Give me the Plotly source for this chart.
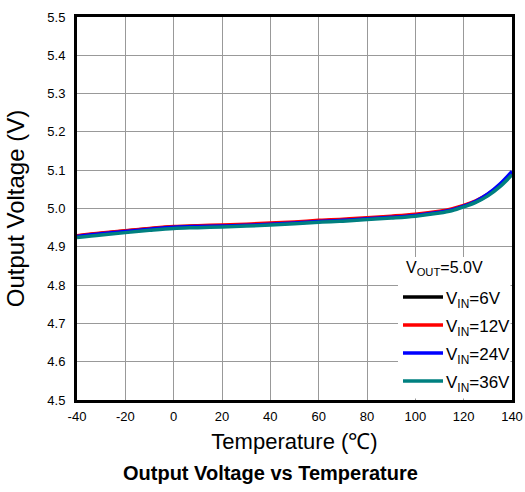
import plotly.graph_objects as go

# Ambient temperature (°C)
temperature = [-40, -30, -20, -10, 0, 10, 20, 30, 40, 50, 60, 70, 80, 90, 100, 110, 115, 120, 125, 130, 135, 140]

# Output voltage (V) for each input voltage
vout_6v = [4.928, 4.935, 4.941, 4.947, 4.952, 4.954, 4.955, 4.957, 4.960, 4.963, 4.967, 4.970, 4.974, 4.978, 4.983, 4.991, 4.997, 5.006, 5.018, 5.035, 5.060, 5.092]
vout_12v = [4.929, 4.936, 4.942, 4.948, 4.953, 4.955, 4.957, 4.959, 4.962, 4.965, 4.969, 4.972, 4.976, 4.980, 4.985, 4.993, 4.999, 5.008, 5.020, 5.037, 5.061, 5.093]
vout_24v = [4.927, 4.934, 4.940, 4.946, 4.951, 4.953, 4.954, 4.956, 4.959, 4.962, 4.966, 4.969, 4.973, 4.977, 4.982, 4.990, 4.996, 5.006, 5.019, 5.038, 5.064, 5.097]
vout_36v = [4.924, 4.931, 4.937, 4.943, 4.948, 4.950, 4.952, 4.954, 4.957, 4.960, 4.964, 4.967, 4.971, 4.975, 4.980, 4.988, 4.994, 5.004, 5.016, 5.033, 5.057, 5.088]

series_names = ["V<sub>IN</sub>=6V", "V<sub>IN</sub>=12V", "V<sub>IN</sub>=24V", "V<sub>IN</sub>=36V"]
series_values = [vout_6v, vout_12v, vout_24v, vout_36v]
series_colors = ["#000000", "#ff0000", "#0000ff", "#008080"]
legend_title = "V<sub>OUT</sub>=5.0V"

x_ticks = list(range(-40, 141, 20))
x_tick_text = [str(v) for v in x_ticks]
y_ticks = [4.5, 4.6, 4.7, 4.8, 4.9, 5.0, 5.1, 5.2, 5.3, 5.4, 5.5]
y_tick_text = [f"{v:.1f}" for v in y_ticks]

font_family = "Liberation Sans, Arial, sans-serif"

fig = go.Figure()
for name, vals, color in zip(series_names, series_values, series_colors):
    fig.add_trace(go.Scatter(
        x=temperature, y=vals, name=name, mode="lines",
        line=dict(color=color, width=3.5, shape="spline"),
        showlegend=False,
    ))

# Legend panel drawn in paper coordinates (plot area is 435 x 383 px)
px_w, px_h = 435.0, 383.0
def px_x(dx):
    return dx / px_w
def px_y(dy):
    return dy / px_h

shapes = [dict(
    type="rect", xref="paper", yref="paper",
    x0=1 - px_x(114), x1=1 - px_x(1.5), y0=px_y(1.5), y1=px_y(143),
    fillcolor="white", line=dict(width=0), layer="above",
)]
annotations = [dict(
    text=legend_title, xref="paper", yref="paper",
    x=1 - px_x(108), y=px_y(132), xanchor="left", yanchor="middle",
    showarrow=False, font=dict(size=16, family=font_family),
)]
for i, (name, color) in enumerate(zip(series_names, series_colors)):
    yc = px_y(103 - 28 * i)
    shapes.append(dict(
        type="line", xref="paper", yref="paper",
        x0=1 - px_x(109), x1=1 - px_x(69), y0=yc, y1=yc,
        line=dict(color=color, width=3.5), layer="above",
    ))
    annotations.append(dict(
        text=name, xref="paper", yref="paper",
        x=1 - px_x(68), y=yc - px_y(3), xanchor="left", yanchor="middle",
        showarrow=False, font=dict(size=17, family=font_family),
    ))

annotations.append(dict(
    text="<b>Output Voltage vs Temperature</b>",
    xref="paper", yref="paper", x=0.445, y=-0.19,
    xanchor="center", yanchor="middle", showarrow=False,
    font=dict(size=20, family=font_family),
))

fig.update_layout(
    width=525, height=492,
    margin=dict(l=77, r=13, t=17, b=92, autoexpand=False),
    paper_bgcolor="white", plot_bgcolor="white",
    font=dict(family=font_family, color="black"),
    xaxis=dict(
        range=[-40, 140], tickvals=x_ticks, ticktext=x_tick_text, ticks="", automargin=False,
        showgrid=True, gridcolor="#999999", gridwidth=1,
        showline=True, linecolor="black", linewidth=3, mirror=True,
        tickfont=dict(size=13), ticklabelstandoff=2,
        title=dict(text="Temperature (℃)", font=dict(size=22), standoff=12),
        zeroline=False,
    ),
    yaxis=dict(
        range=[4.5, 5.5], tickvals=y_ticks, ticktext=y_tick_text, ticks="", automargin=False,
        showgrid=True, gridcolor="#999999", gridwidth=1,
        showline=True, linecolor="black", linewidth=3, mirror=True,
        tickfont=dict(size=13), ticklabelstandoff=6,
        title=dict(text="Output Voltage (V)", font=dict(size=24), standoff=16),
        zeroline=False,
    ),
    shapes=shapes,
    annotations=annotations,
)

fig.write_html("out.html")
